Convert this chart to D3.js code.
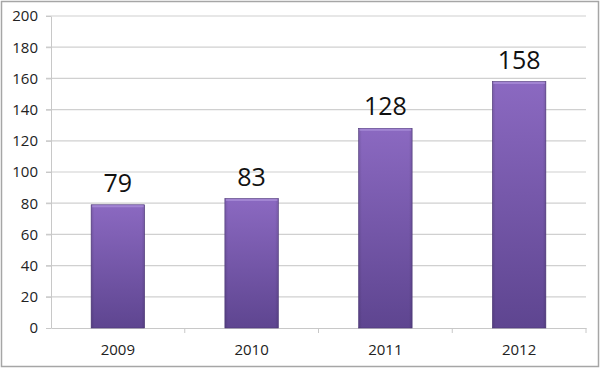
<!DOCTYPE html>
<html>
<head>
<meta charset="utf-8">
<script src="https://cdn.jsdelivr.net/npm/d3@7"></script>
<style>
  body { margin: 0; background: #fff; }
  svg { display: block; font-family: "Open Sans", "DejaVu Sans", sans-serif; }
</style>
</head>
<body>
<div class="container"></div>
<script>
const years = ["2009", "2010", "2011", "2012"];
const counts = [79, 83, 128, 158];
const yTicks = [0, 20, 40, 60, 80, 100, 120, 140, 160, 180, 200];

const WIDTH = 600, HEIGHT = 387;
const MARGIN = { top: 16, right: 14, bottom: 59, left: 51 };

const svg = d3.select(".container")
  .append("svg")
  .attr("width", WIDTH)
  .attr("height", HEIGHT);

// outer frame
svg.append("rect")
  .attr("x", 1.5).attr("y", 1.5)
  .attr("width", 597).attr("height", 365)
  .attr("fill", "#fff")
  .attr("stroke", "#a6a6a6")
  .attr("stroke-width", 1.5);

const x = d3.scaleBand()
  .domain(years)
  .range([MARGIN.left, WIDTH - MARGIN.right])
  .padding(0);

const y = d3.scaleLinear()
  .domain([0, 200])
  .range([HEIGHT - MARGIN.bottom, MARGIN.top]);

// gradient for bars
const defs = svg.append("defs");
const grad = defs.append("linearGradient")
  .attr("id", "barGrad")
  .attr("x1", 0).attr("y1", 0).attr("x2", 0).attr("y2", 1);
grad.append("stop").attr("offset", "0%").attr("stop-color", "#8b69c1");
grad.append("stop").attr("offset", "100%").attr("stop-color", "#5e4590");

const side = defs.append("linearGradient")
  .attr("id", "sideGrad")
  .attr("x1", 0).attr("y1", 0).attr("x2", 1).attr("y2", 0);
side.append("stop").attr("offset", "0%").attr("stop-color", "#000").attr("stop-opacity", 0.12);
side.append("stop").attr("offset", "6%").attr("stop-color", "#000").attr("stop-opacity", 0);
side.append("stop").attr("offset", "94%").attr("stop-color", "#000").attr("stop-opacity", 0);
side.append("stop").attr("offset", "100%").attr("stop-color", "#000").attr("stop-opacity", 0.12);

// grid lines
svg.append("g")
  .selectAll("line")
  .data(yTicks.filter(d => d > 0))
  .join("line")
  .attr("x1", MARGIN.left - 5)
  .attr("x2", WIDTH - MARGIN.right)
  .attr("y1", d => y(d))
  .attr("y2", d => y(d))
  .attr("stroke", "#d0d0d0")
  .attr("stroke-width", 1.2);

// Y axis
const yAxis = svg.append("g")
  .attr("transform", `translate(${MARGIN.left},0)`)
  .call(d3.axisLeft(y).tickValues(yTicks).tickSize(5).tickSizeOuter(0).tickPadding(8));
yAxis.select(".domain").attr("stroke", "#c8c8c8");
yAxis.selectAll(".tick line").attr("stroke", "#c8c8c8");
yAxis.selectAll(".tick text")
  .attr("font-size", "15px")
  .attr("fill", "#222")
  .attr("font-family", "\"Open Sans\", sans-serif");

// X axis
const xAxis = svg.append("g")
  .attr("transform", `translate(0,${y(0)})`)
  .call(d3.axisBottom(x).tickSize(0).tickSizeOuter(0).tickPadding(16));
xAxis.select(".domain").attr("stroke", "#c8c8c8");
xAxis.selectAll(".tick text")
  .attr("font-size", "15px")
  .attr("fill", "#222")
  .attr("font-family", "\"Open Sans\", sans-serif");
// boundary tick marks between categories
svg.append("g")
  .selectAll("line")
  .data(years.slice(1).concat(["end"]))
  .join("line")
  .attr("x1", (d, i) => i < years.length - 1 ? x(d) : x(years[years.length - 1]) + x.bandwidth())
  .attr("x2", (d, i) => i < years.length - 1 ? x(d) : x(years[years.length - 1]) + x.bandwidth())
  .attr("y1", y(0))
  .attr("y2", y(0) + 5)
  .attr("stroke", "#c8c8c8");

// bars
const barW = x.bandwidth() * 0.4;
const bars = svg.append("g")
  .selectAll("g")
  .data(years.map((d, i) => ({ year: d, value: counts[i] })))
  .join("g");

bars.append("rect")
  .attr("x", d => x(d.year) + (x.bandwidth() - barW) / 2)
  .attr("y", d => y(d.value))
  .attr("width", barW)
  .attr("height", d => y(0) - y(d.value))
  .attr("fill", "url(#barGrad)")
  .attr("stroke", "#4f3a7a")
  .attr("stroke-width", 0.6);

bars.append("rect")
  .attr("x", d => x(d.year) + (x.bandwidth() - barW) / 2)
  .attr("y", d => y(d.value))
  .attr("width", barW)
  .attr("height", d => y(0) - y(d.value))
  .attr("fill", "url(#sideGrad)");

// bevel highlight on top
bars.append("rect")
  .attr("x", d => x(d.year) + (x.bandwidth() - barW) / 2 + 1)
  .attr("y", d => y(d.value) + 0.5)
  .attr("width", barW - 2)
  .attr("height", 2)
  .attr("fill", "#ad92da")
  .attr("opacity", 0.7);

// value labels
bars.append("text")
  .attr("x", d => x(d.year) + x.bandwidth() / 2)
  .attr("y", d => y(d.value) - 13)
  .attr("text-anchor", "middle")
  .attr("font-size", "25px")
  .attr("fill", "#111")
  .attr("font-family", "\"Open Sans\", sans-serif")
  .text(d => d.value);
</script>
</body>
</html>
